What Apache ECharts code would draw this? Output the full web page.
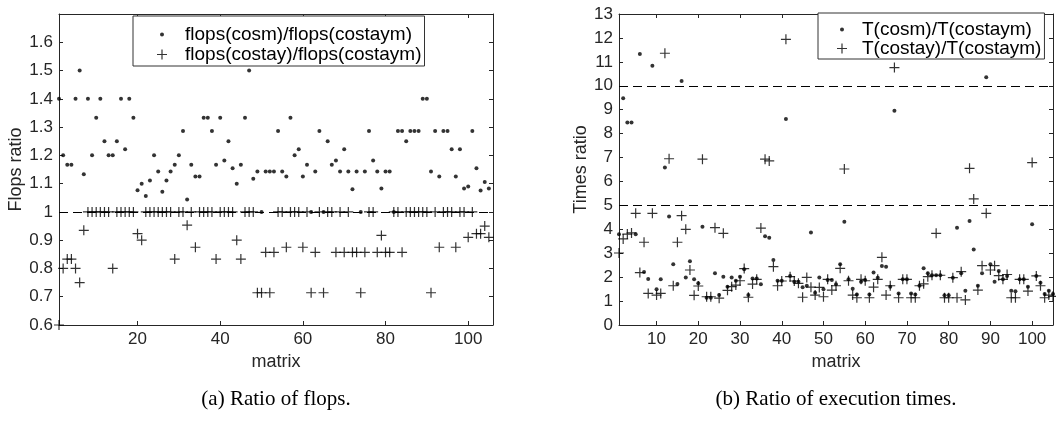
<!DOCTYPE html>
<html><head><meta charset="utf-8">
<script src="https://cdn.jsdelivr.net/npm/echarts@6/dist/echarts.min.js"></script>
<style>html,body{margin:0;padding:0;background:#fff}#c{width:1056px;height:421px}</style>
</head><body><div id="c"></div>
<script>
const matrixIds = [1,2,3,4,5,6,7,8,9,10,11,12,13,14,15,16,17,18,19,20,21,22,23,24,25,26,27,28,29,30,31,32,33,34,35,36,37,38,39,40,41,42,43,44,45,46,47,48,49,50,51,52,53,54,55,56,57,58,59,60,61,62,63,64,65,66,67,68,69,70,71,72,73,74,75,76,77,78,79,80,81,82,83,84,85,86,87,88,89,90,91,92,93,94,95,96,97,98,99,100,101,102,103,104,105];

// (a) flops ratios
const flopsCosm = [1.4,1.2,1.167,1.167,1.4,1.5,1.133,1.4,1.2,1.333,1.4,1.25,1.2,1.2,1.25,1.4,1.222,1.4,1.333,1.077,
  1.1,1.056,1.111,1.2,1.143,1.071,1.111,1.143,1.167,1.2,1.286,1.044,1.167,1.125,1.125,1.333,1.333,1.286,1.167,1.333,
  1.182,1.25,1.154,1.1,1.167,1.333,1.5,1.117,1.143,1.0,1.143,1.143,1.143,1.286,1.143,1.125,1.333,1.2,1.222,1.125,
  1.167,1.0,1.143,1.286,1.0,1.25,1.167,1.182,1.143,1.222,1.143,1.08,1.143,1.0,1.143,1.286,1.182,1.143,1.083,1.143,
  1.143,1.0,1.286,1.286,1.25,1.286,1.286,1.286,1.4,1.4,1.143,1.286,1.125,1.286,1.286,1.222,1.125,1.222,1.083,1.09,
  1.286,1.154,1.076,1.106,1.083];
const flopsCostay = [0.6,0.8,0.833,0.833,0.8,0.75,0.935,1,1,1,1,1,1,0.8,1,1,1,1,1,0.923,
  0.9,1,1,1,1,1,1,1,0.833,1,1,0.953,1,0.875,1,1,1,1,0.833,1,
  1,1,1,0.9,0.833,1,1,1,0.714,0.714,0.857,0.714,0.857,1,1,0.875,1,1,1,0.875,
  1,0.714,0.857,1,0.714,1,1,0.857,1,0.857,1,0.857,0.857,0.714,0.857,1,1,0.857,0.917,0.857,
  0.857,1,1,0.857,1,1,1,1,1,1,0.714,1,0.875,1,1,1,0.875,1,1,0.91,
  1,0.923,0.923,0.95,0.91];

// (b) execution time ratios
const timeCosm = [3.79,9.48,8.46,8.46,3.79,11.33,2.22,1.92,10.84,1.49,1.91,6.58,4.54,2.54,1.71,10.2,1.99,2.66,1.91,1.74,
  4.11,1.14,1.14,2.16,1.25,2.02,1.6,1.99,1.85,2.02,2.33,1.25,1.94,1.94,1.7,3.71,3.65,2.72,1.85,1.85,
  8.61,2.05,1.81,1.81,1.58,1.64,3.87,1.35,1.99,1.49,1.88,1.88,1.7,2.54,4.32,1.91,1.52,1.27,1.81,1.88,
  1.27,2.19,1.98,2.47,2.44,1.6,8.96,1.32,1.91,1.91,1.32,1.27,1.64,2.37,2.16,2.08,2.08,2.08,1.24,1.24,
  1.98,4.07,2.16,1.43,4.35,3.16,1.64,2.16,10.36,2.54,1.81,2.26,1.91,2.05,1.43,1.41,1.91,1.91,1.6,4.21,
  2.05,1.77,1.3,1.43,1.3];
const timeCostay = [3.01,3.6,3.8,3.85,4.67,2.19,3.46,1.32,4.67,1.25,1.32,11.36,6.95,1.64,3.46,4.57,4.0,2.3,1.24,1.63,
  6.93,1.18,1.18,4.07,1.12,3.83,1.45,1.6,1.67,1.85,2.36,1.16,1.71,1.91,4.05,6.93,6.86,2.44,1.64,1.84,
  11.94,2.02,1.84,1.74,1.16,1.99,1.58,1.25,1.57,1.18,1.91,1.46,1.64,2.37,6.52,1.85,1.25,1.14,1.91,1.85,
  1.14,1.58,1.91,2.83,1.25,1.64,10.76,1.14,1.91,1.91,1.14,1.14,1.64,1.72,2.02,2.08,3.83,2.08,1.14,1.14,
  1.98,1.14,2.23,1.05,6.55,5.27,1.46,2.48,4.67,2.3,2.48,2.06,1.91,2.11,1.14,1.14,1.91,1.91,1.42,6.79,
  2.05,1.64,1.14,1.25,1.2];

const flopsTicksX = [20,40,60,80,100];
const timeTicksX = [10,20,30,40,50,60,70,80,90,100];
const flopsRefLines = [1];
const timeRefLines = [5,10];

const names = {
  a1: 'flops(cosm)/flops(costaym)', a2: 'flops(costay)/flops(costaym)',
  b1: 'T(cosm)/T(costaym)', b2: 'T(costay)/T(costaym)'
};

const FONT = 'Liberation Sans, Arial, sans-serif';
const AX = '#262626';
const plusPath = 'path://M0,4.4L10,4.4L10,5.6L0,5.6Z M4.4,0L5.6,0L5.6,10L4.4,10Z';
const dotIcon = 'path://M0,0Z M10,10Z M5,3A2,2,0,1,1,5,7A2,2,0,1,1,5,3Z';

function pairs(vals){ return vals.map((v,i)=>[matrixIds[i], v]); }

function xAx(grid, min, max, ticks, top){
  return {
    type:'value', gridIndex:grid, min:min, max:max, position: top?'top':'bottom',
    name: top ? '' : 'matrix', nameLocation:'middle', nameGap:27,
    nameTextStyle:{fontFamily:FONT, fontSize:18, color:AX},
    axisLine:{show:true, onZero:false, lineStyle:{color:AX, width:1}},
    axisTick:{show:true, inside:true, length:4, customValues:ticks, lineStyle:{color:AX}},
    axisLabel:{show:!top, customValues:ticks, margin:6, fontFamily:FONT, fontSize:17, color:AX},
    splitLine:{show:false}
  };
}
function yAx(grid, min, max, interval, right, name, gap, hideMax){
  return {
    type:'value', gridIndex:grid, min:min, max:max, interval:interval, position: right?'right':'left',
    name: right ? '' : name, nameLocation:'middle', nameGap:gap,
    nameTextStyle:{fontFamily:FONT, fontSize:18, color:AX},
    axisLine:{show:true, onZero:false, lineStyle:{color:AX, width:1}},
    axisTick:{show:true, inside:true, length:4, lineStyle:{color:AX}},
    axisLabel:{show:!right, margin:6, fontFamily:FONT, fontSize:17, color:AX, showMaxLabel: !hideMax},
    splitLine:{show:false}
  };
}
function refLine(vals){
  return {
    silent:true, symbol:'none', label:{show:false},
    lineStyle:{color:'#000', width:1, type:[9,5]},
    data: vals.map(v=>({yAxis:v}))
  };
}
function legendCfg(d1, d2, left, top, iw, pad, gap, fs){
  return {
    data:[{name:d1, icon:dotIcon},{name:d2, icon:plusPath}],
    orient:'vertical', left:left, top:top, itemWidth:iw, itemHeight:10, itemGap:gap,
    padding:pad, borderColor:'#333', borderWidth:1, backgroundColor:'#fff',
    selectedMode:false,
    textStyle:{fontFamily:FONT, fontSize:fs, color:'#000', lineHeight:16}
  };
}

const chart = echarts.init(document.getElementById('c'), null, {renderer:'canvas'});
chart.setOption({
  animation:false,
  backgroundColor:'#fff',
  grid:[
    {left:59, right:563, top:14, bottom:96},
    {left:619, right:3, top:14, bottom:96}
  ],
  xAxis:[
    xAx(0,1,106,flopsTicksX,false), xAx(0,1,106,flopsTicksX,true),
    xAx(1,1,105,timeTicksX,false), xAx(1,1,105,timeTicksX,true)
  ],
  yAxis:[
    yAx(0,0.6,1.7,0.1,false,'Flops ratio',33,true), yAx(0,0.6,1.7,0.1,true,'',0,true),
    yAx(1,0,13,1,false,'Times ratio',25,false), yAx(1,0,13,1,true,'',0,false)
  ],
  legend:[
    legendCfg(names.a1, names.a2, 133, 16, 36, [9,3,2,24], 1, 19),
    legendCfg(names.b1, names.b2, 818, 13, 30, [7,3,1,19], 0, 19)
  ],
  series:[
    {type:'scatter', name:names.a1, xAxisIndex:0, yAxisIndex:0, symbol:'circle', symbolSize:4,
     itemStyle:{color:'#000'}, data:pairs(flopsCosm), markLine:refLine(flopsRefLines)},
    {type:'scatter', name:names.a2, xAxisIndex:0, yAxisIndex:0, symbol:plusPath, symbolSize:10,
     itemStyle:{color:'#000'}, data:pairs(flopsCostay)},
    {type:'scatter', name:names.b1, xAxisIndex:2, yAxisIndex:2, symbol:'circle', symbolSize:4,
     itemStyle:{color:'#000'}, data:pairs(timeCosm), markLine:refLine(timeRefLines)},
    {type:'scatter', name:names.b2, xAxisIndex:2, yAxisIndex:2, symbol:plusPath, symbolSize:10,
     itemStyle:{color:'#000'}, data:pairs(timeCostay)}
  ],
  graphic:[
    {type:'text', x:276, y:399, style:{text:'(a) Ratio of flops.', fill:'#000', font:'21px "Liberation Serif", serif', align:'center', verticalAlign:'middle'}},
    {type:'text', x:836, y:399, style:{text:'(b) Ratio of execution times.', fill:'#000', font:'21px "Liberation Serif", serif', align:'center', verticalAlign:'middle'}}
  ]
});
</script>
</body></html>
